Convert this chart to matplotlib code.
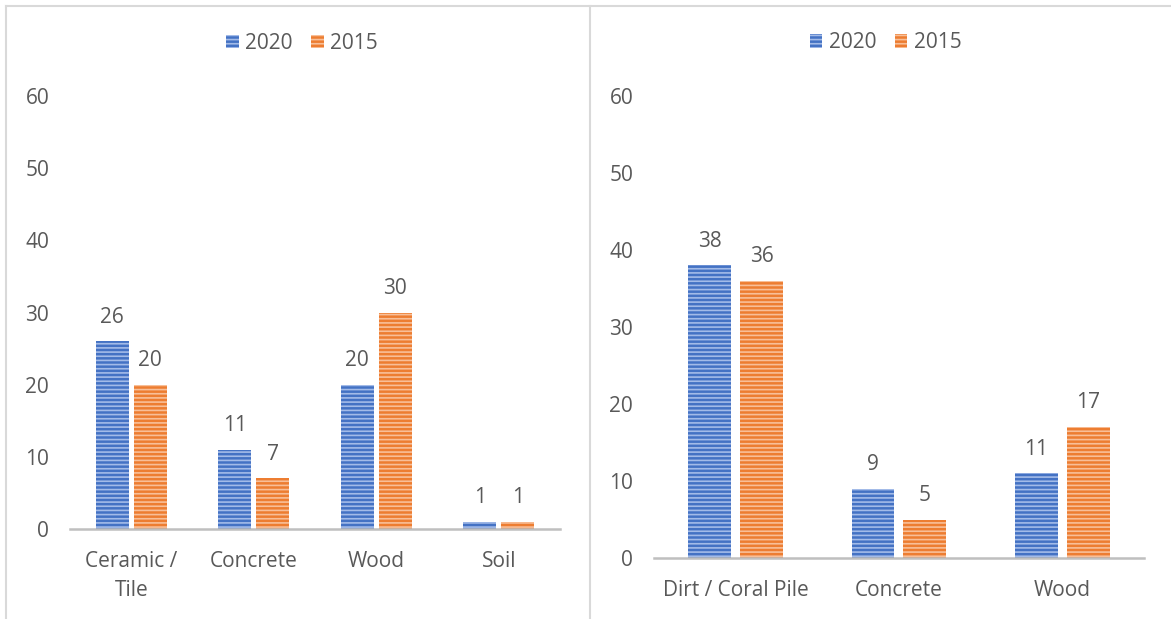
import matplotlib.pyplot as plt
from matplotlib.lines import Line2D
from matplotlib.patches import Patch
import numpy as np

# floor materials, share of households (%)
floor_categories = ["Ceramic /\nTile", "Concrete", "Wood", "Soil"]
floor_2020 = [26, 11, 20, 1]
floor_2015 = [20, 7, 30, 1]

# foundation materials, share of households (%)
found_categories = ["Dirt / Coral Pile", "Concrete", "Wood"]
found_2020 = [38, 9, 11]
found_2015 = [36, 5, 17]

years = ["2020", "2015"]

BLUE = "#4472C4"
BLUE_STRIPE = "#a3bbe8"
ORANGE = "#ED7D31"
ORANGE_STRIPE = "#f8bf98"
TEXT = "#595959"
GRID = "#D9D9D9"
FS = 15

plt.rcParams["font.family"] = ["Open Sans", "DejaVu Sans"]
plt.rcParams["hatch.linewidth"] = 1.2


def draw_panel(ax, cats, v2020, v2015, bar_w, gap, legend_y):
    x = np.arange(len(cats))
    off = (bar_w + gap) / 2
    series = [(v2020, -off, BLUE, BLUE_STRIPE), (v2015, off, ORANGE, ORANGE_STRIPE)]
    for vals, dx, face, stripe in series:
        bars = ax.bar(x + dx, vals, width=bar_w, color=face, edgecolor=stripe,
                      linewidth=0, hatch="----", zorder=2)
        for bar, v in zip(bars, vals):
            ax.annotate(f"{v}", (bar.get_x() + bar.get_width() / 2, v),
                        xytext=(0, 17.5), textcoords="offset points",
                        ha="center", va="center", fontsize=FS, color=TEXT)

    ax.set_xlim(-0.5, len(cats) - 0.5)
    ax.set_ylim(0, 60)
    ax.set_yticks(range(0, 61, 10))
    ax.set_xticks(x)
    ax.set_xticklabels(cats, fontsize=FS, color=TEXT, linespacing=1.5)
    ax.tick_params(axis="y", length=0, pad=15, labelsize=FS, labelcolor=TEXT)
    ax.tick_params(axis="x", length=0, pad=16)
    for side in ("top", "right", "left"):
        ax.spines[side].set_visible(False)
    ax.spines["bottom"].set_color("#BFBFBF")
    ax.spines["bottom"].set_linewidth(1.8)

    handles = [Patch(facecolor=BLUE, edgecolor=BLUE_STRIPE, hatch="----", linewidth=0),
               Patch(facecolor=ORANGE, edgecolor=ORANGE_STRIPE, hatch="----", linewidth=0)]
    ax.legend(handles, years, loc="center", bbox_to_anchor=(0.473, legend_y),
              ncol=2, frameon=False, fontsize=FS, labelcolor=TEXT,
              handlelength=0.6, handleheight=0.6, handletextpad=0.3,
              columnspacing=0.9)


fig = plt.figure(figsize=(11.71, 6.19), dpi=100)

ax_l = fig.add_axes([0.0598, 0.1454, 0.4184, 0.6995])
draw_panel(ax_l, floor_categories, floor_2020, floor_2015, 0.27, 0.04, 1.122)

ax_r = fig.add_axes([0.5585, 0.0985, 0.4184, 0.7464])
draw_panel(ax_r, found_categories, found_2020, found_2015, 0.263, 0.055, 1.115)

# light panel frames
for xs, ys in [([0.0047, 1.0], [0.990, 0.990]),
               ([0.0047, 0.0047], [0.0, 0.990]),
               ([0.5039, 0.5039], [0.0, 0.990])]:
    fig.add_artist(Line2D(xs, ys, transform=fig.transFigure, color=GRID, linewidth=1.5))

fig.savefig("out.png", dpi=100)
